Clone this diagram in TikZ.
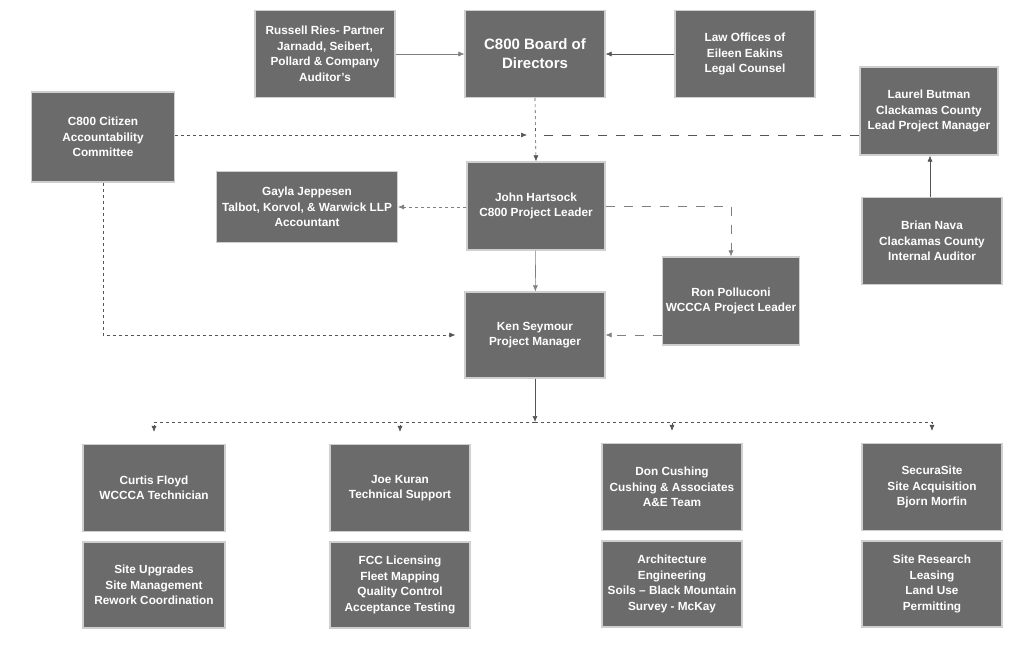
\documentclass[tikz,border=0pt]{standalone}
\usepackage{fontspec}
\setmainfont{Liberation Sans}
\usetikzlibrary{arrows.meta}
\definecolor{boxgray}{HTML}{6B6B6B}
\definecolor{edgegray}{HTML}{CFCFCF}
\definecolor{linegray}{HTML}{555555}
\begin{document}
\begin{tikzpicture}[x=1pt,y=-1pt,
  box/.style={rectangle, fill=boxgray, draw=edgegray, line width=1.2pt, text=white,
    font=\fontsize{11.8}{15.5}\selectfont\bfseries, align=center, inner sep=1pt,
    minimum width=140pt, minimum height=87pt},
  conn/.style={draw=linegray, line width=0.6pt, -{Latex[length=6pt,width=5pt]}},
  plain/.style={draw=linegray, line width=0.6pt},
  dash1/.style={dash pattern=on 3pt off 3pt},
  dash2/.style={dash pattern=on 9pt off 9pt}]
\useasboundingbox (0,0) rectangle (1026,647);
\fill[white] (0,0) rectangle (1026,647);

\node[box] (ries) at (325,54) {Russell Ries- Partner\\Jarnadd, Seibert,\\Pollard \& Company\\Auditor's};
\node[box, font=\fontsize{15}{19}\selectfont\bfseries] (board) at (535,54) {C800 Board of\\Directors};
\node[box] (law) at (745,54) {Law Offices of\\Eileen Eakins\\Legal Counsel};
\node[box, minimum width=138pt, minimum height=88pt] (laurel) at (929,111) {Laurel Butman\\Clackamas County\\Lead Project Manager};
\node[box] (brian) at (932,241) {Brian Nava\\Clackamas County\\Internal Auditor};
\node[box, minimum width=143pt, minimum height=90pt] (citizen) at (103,137) {C800 Citizen\\Accountability\\Committee};
\node[box, minimum width=181pt, minimum height=71pt] (gayla) at (307,207) {Gayla Jeppesen\\Talbot, Korvol, \& Warwick LLP\\Accountant};
\node[box, minimum width=138pt, minimum height=88pt] (john) at (536,206) {John Hartsock\\C800 Project Leader};
\node[box, minimum width=137pt, minimum height=88pt] (ron) at (731,301) {Ron Polluconi\\WCCCA Project Leader};
\node[box, minimum height=86pt] (ken) at (535,335) {Ken Seymour\\Project Manager};

\node[box, minimum width=142pt] (curtis) at (154,488) {Curtis Floyd\\WCCCA Technician};
\node[box, minimum width=142pt, minimum height=86pt] (curtis2) at (154,585) {Site Upgrades\\Site Management\\Rework Coordination};
\node[box] (joe) at (400,488) {Joe Kuran\\Technical Support};
\node[box, minimum height=86pt] (joe2) at (400,585) {FCC Licensing\\Fleet Mapping\\Quality Control\\Acceptance Testing};
\node[box] (don) at (672,487) {Don Cushing\\Cushing \& Associates\\A\&E Team};
\node[box, minimum height=86pt] (don2) at (672,584) {Architecture\\Engineering\\Soils -- Black Mountain\\Survey - McKay};
\node[box] (secura) at (932,487) {SecuraSite\\Site Acquisition\\Bjorn Morfin};
\node[box, minimum height=86pt] (secura2) at (932,584) {Site Research\\Leasing\\Land Use\\Permitting};

% top row
\draw[conn, draw=gray] (ries) -- (board);
\draw[conn] (law) -- (board);
% junction above John
\coordinate (jn) at (536,135);
\draw[conn, dash1] (board.south) -- (john.north);
\draw[conn, dash1] (citizen.east |- jn) -- ([xshift=-9pt]jn);
\draw[plain, dash2] (laurel.west |- jn) -- (jn);
\draw[conn] (brian.north -| 930,0) -- (laurel.south -| 930,0);
% middle
\draw[conn, dash1, draw=gray] (john.west |- gayla.east) -- (gayla.east);
\draw[conn, dash2, draw=gray] (john.east) -| (ron.north);
\draw[conn, draw=gray] (john) -- (ken);
\draw[conn, dash2, draw=gray] (ron.west |- ken.east) -- (ken.east);
\draw[conn, dash1] (citizen.south) |- ([xshift=-9pt]ken.west);
% bus
\coordinate (bus) at (535,422);
\draw[conn] (ken.south) -- (bus);
\draw[conn, dash1, shorten >=12pt] (bus) -| (curtis.north);
\draw[conn, dash1, shorten >=12pt] (bus) -| (joe.north);
\draw[conn, dash1, shorten >=12pt] (bus) -| (don.north);
\draw[conn, dash1, shorten >=12pt] (bus) -| (secura.north);
\end{tikzpicture}
\end{document}
